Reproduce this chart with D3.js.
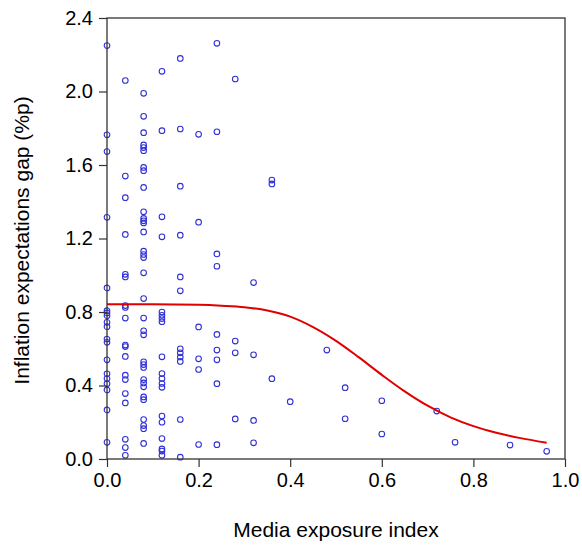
<!DOCTYPE html>
<html>
<head>
<meta charset="utf-8">
<script src="https://cdn.jsdelivr.net/npm/d3@7"></script>
<style>
  body { margin: 0; background: #fff; }
  svg { display: block; font-family: Arial, "Liberation Sans", sans-serif; }
</style>
</head>
<body>
<div id="chart"></div>
<script>
// media exposure levels (x) and the gaps observed at each level (y)
var exposureLevels = [0, 0.04, 0.08, 0.12, 0.16, 0.2, 0.24, 0.28, 0.32, 0.36, 0.4, 0.48, 0.52, 0.6, 0.72, 0.76, 0.88, 0.96];
var gapValues = [
    [2.25, 1.764, 1.673, 1.315, 0.931, 0.807, 0.795, 0.78, 0.744, 0.72, 0.653, 0.635, 0.54, 0.464, 0.438, 0.41, 0.376, 0.267, 0.091],
    [2.06, 1.54, 1.422, 1.222, 1.005, 0.991, 0.835, 0.825, 0.767, 0.62, 0.612, 0.558, 0.456, 0.432, 0.356, 0.305, 0.107, 0.062, 0.02],
    [1.99, 1.865, 1.776, 1.709, 1.695, 1.678, 1.587, 1.569, 1.478, 1.345, 1.309, 1.296, 1.285, 1.236, 1.131, 1.113, 1.096, 1.013, 0.873, 0.767, 0.698, 0.676, 0.529, 0.514, 0.498, 0.432, 0.414, 0.393, 0.338, 0.323, 0.215, 0.182, 0.165, 0.085],
    [2.11, 1.787, 1.318, 1.209, 0.80, 0.782, 0.764, 0.747, 0.556, 0.465, 0.438, 0.411, 0.39, 0.234, 0.2, 0.111, 0.055, 0.043, 0.02],
    [2.18, 1.796, 1.485, 1.218, 0.991, 0.915, 0.6, 0.578, 0.555, 0.531, 0.215, 0.01],
    [1.767, 1.289, 0.719, 0.545, 0.487, 0.079],
    [2.262, 1.781, 1.116, 1.049, 0.678, 0.593, 0.54, 0.41, 0.078],
    [2.068, 0.642, 0.578, 0.218],
    [0.96, 0.567, 0.21, 0.088],
    [1.518, 1.497, 0.437],
    [0.312],
    [0.593],
    [0.388, 0.219],
    [0.317, 0.136],
    [0.261],
    [0.091],
    [0.076],
    [0.042]
];

// fitted curve
var fitX = [0, 0.1, 0.2, 0.25, 0.3, 0.35, 0.4, 0.45, 0.5, 0.55, 0.6, 0.65, 0.7, 0.75, 0.8, 0.85, 0.9, 0.96];
var fitY = [0.842, 0.842, 0.839, 0.834, 0.826, 0.808, 0.775, 0.718, 0.643, 0.553, 0.458, 0.368, 0.29, 0.227, 0.179, 0.143, 0.115, 0.089];

var xTicks = [0, 0.2, 0.4, 0.6, 0.8, 1.0];
var yTicks = [0, 0.4, 0.8, 1.2, 1.6, 2.0, 2.4];

var W = 582, H = 548;
var margin = { top: 18, right: 17, bottom: 89, left: 107 };
var width = W - margin.left - margin.right;
var height = H - margin.top - margin.bottom;

var svg = d3.select("#chart").append("svg")
    .attr("width", W)
    .attr("height", H);

var g = svg.append("g")
    .attr("transform", "translate(" + margin.left + "," + margin.top + ")");

var x = d3.scaleLinear().domain([0, 1]).range([0, width]);
var y = d3.scaleLinear().domain([0, 2.4]).range([height, 0]);

// puntos
var points = [];
exposureLevels.forEach(function (lv, i) {
    gapValues[i].forEach(function (v) {
        points.push({ x: lv, y: v });
    });
});

g.selectAll("circle.pt")
    .data(points)
    .enter()
    .append("circle")
    .attr("class", "pt")
    .attr("cx", function (d) { return x(d.x); })
    .attr("cy", function (d) { return y(d.y); })
    .attr("r", 2.8)
    .attr("fill", "none")
    .attr("stroke", "#3030d8")
    .attr("stroke-width", 1.1);

// fitted line
var line = d3.line()
    .x(function (d) { return x(d[0]); })
    .y(function (d) { return y(d[1]); })
    .curve(d3.curveMonotoneX);

g.append("path")
    .datum(d3.zip(fitX, fitY))
    .attr("fill", "none")
    .attr("stroke", "#e00000")
    .attr("stroke-width", 2)
    .attr("d", line);

// frame
g.append("rect")
    .attr("width", width)
    .attr("height", height)
    .attr("fill", "none")
    .attr("stroke", "#333")
    .attr("stroke-width", 1.3);

// axes
var xAxis = g.append("g")
    .attr("transform", "translate(0," + height + ")")
    .call(d3.axisBottom(x).tickValues(xTicks).tickFormat(d3.format(".1f")).tickSize(8).tickPadding(6));

var yAxis = g.append("g")
    .call(d3.axisLeft(y).tickValues(yTicks).tickFormat(d3.format(".1f")).tickSize(8).tickPadding(6));

[xAxis, yAxis].forEach(function (a) {
    a.select(".domain").remove();
    a.selectAll("line").attr("stroke", "#333").attr("stroke-width", 1.2);
    a.selectAll("text")
        .attr("fill", "#000")
        .style("font-size", "20px")
        .style("font-family", "Arial, 'Liberation Sans', sans-serif");
});

// axis titles
svg.append("text")
    .attr("x", margin.left + width / 2)
    .attr("y", 537)
    .attr("text-anchor", "middle")
    .style("font-size", "21px")
    .text("Media exposure index");

svg.append("text")
    .attr("transform", "translate(29," + (margin.top + height / 2 + 2) + ") rotate(-90)")
    .attr("text-anchor", "middle")
    .style("font-size", "21px")
    .text("Inflation expectations gap (%p)");
</script>
</body>
</html>
